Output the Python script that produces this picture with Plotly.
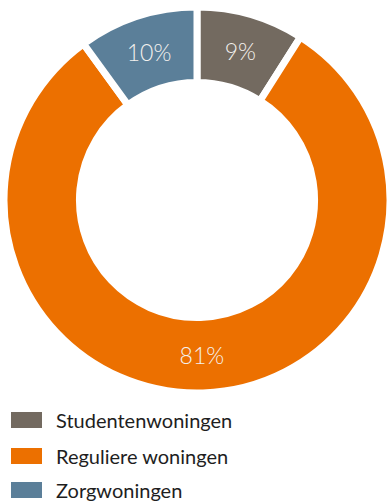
import plotly.graph_objects as go

# Woningtypen en hun aandeel (%)
labels = ["Studentenwoningen", "Reguliere woningen", "Zorgwoningen"]
values = [9, 81, 10]
colors = ["#736a60", "#ec7000", "#5b7f99"]

W, H = 390, 501

fig = go.Figure(
    go.Pie(
        labels=labels,
        values=values,
        sort=False,
        direction="clockwise",
        rotation=0,
        hole=0.609,
        marker=dict(colors=colors, line=dict(color="white", width=7)),
        texttemplate="%{value}%",
        textposition="inside",
        insidetextorientation="horizontal",
        textfont=dict(family="Lato", size=23, color="#f4f1ee", weight=300),
        hoverinfo="label+percent",
        showlegend=False,
        domain=dict(x=[4 / W, 1], y=[1 - 393 / H, 1 - 7 / H]),
    )
)

# Legend drawn as swatches plus text beneath the donut
shapes, annotations = [], []
row_top = [412, 448, 482]
for name, col, top in zip(labels, colors, row_top):
    shapes.append(dict(
        type="rect", xref="paper", yref="paper",
        x0=11 / W, x1=42 / W, y0=1 - (top + 16) / H, y1=1 - top / H,
        fillcolor=col, line=dict(width=0),
    ))
    annotations.append(dict(
        x=54 / W, y=1 - (top + 8) / H, xref="paper", yref="paper",
        text=name, showarrow=False, xanchor="left", yanchor="middle",
        font=dict(family="Lato", size=20, color="#1e1e1e"),
    ))

fig.update_layout(
    width=W, height=H,
    margin=dict(l=0, r=0, t=0, b=0),
    paper_bgcolor="white",
    plot_bgcolor="white",
    shapes=shapes,
    annotations=annotations,
)

fig.write_html("out.html")
